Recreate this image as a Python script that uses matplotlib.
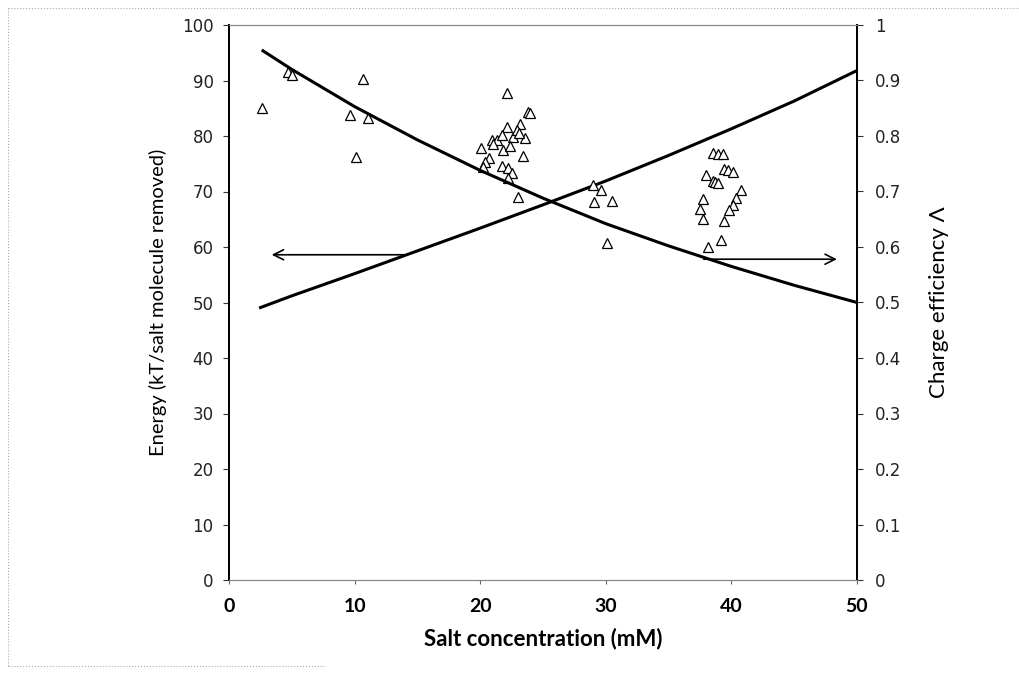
import matplotlib
matplotlib.use("Agg")
import matplotlib.pyplot as plt
from matplotlib.lines import Line2D

plt.rcParams['font.family'] = ['Lato', 'DejaVu Sans']

# Scatter data: salt concentration (mM) vs energy (kT/salt molecule removed)
conc_pts = [2.6, 4.7, 5.0, 9.6, 10.1, 10.7, 11.1,
            22.1, 23.8, 24.0, 22.1, 23.2, 20.9, 21.3, 21.7, 22.6, 23.6,
            21.8, 20.1, 20.7, 20.4, 20.2, 23.4, 21.7, 22.2, 22.5, 22.2, 23.0,
            21.0, 22.9, 22.4, 23.1,
            29.0, 29.6, 29.1, 30.5, 30.1,
            38.5, 38.9, 39.3, 39.4, 39.7, 40.1, 38.0, 38.5, 38.7, 38.9,
            40.8, 40.4, 40.1, 39.8, 37.7, 37.5, 37.7, 39.4, 38.1, 39.2]
energy_pts = [85.0, 91.5, 91.0, 83.7, 76.2, 90.3, 83.2,
              87.8, 84.3, 84.1, 81.6, 82.2, 79.3, 79.3, 80.2, 79.8, 79.6,
              77.5, 77.8, 76.0, 75.3, 74.4, 76.4, 74.6, 74.2, 73.3, 72.4, 69.0,
              78.5, 81.0, 78.2, 80.6,
              71.2, 70.3, 68.1, 68.3, 60.7,
              76.9, 76.8, 76.8, 74.1, 73.9, 73.5, 73.0, 71.9, 71.7, 71.5,
              70.3, 68.8, 67.6, 66.7, 68.6, 66.8, 65.0, 64.7, 60.0, 61.3]

# Energy curve (left axis)
energy_x = [2.4, 5, 10, 15, 20, 25, 30, 35, 40, 45, 50]
energy_y = [49.0, 51.2, 55.2, 59.3, 63.4, 67.6, 71.9, 76.5, 81.3, 86.3, 91.8]

# Charge efficiency curve (right axis)
eff_x = [2.6, 5, 10, 15, 20, 25, 30, 35, 40, 45, 50]
eff_y = [0.955, 0.92, 0.853, 0.793, 0.738, 0.688, 0.642, 0.602, 0.565, 0.531, 0.50]

x_ticks = [0, 10, 20, 30, 40, 50]
left_ticks = [0, 10, 20, 30, 40, 50, 60, 70, 80, 90, 100]
right_ticks = [0, 0.1, 0.2, 0.3, 0.4, 0.5, 0.6, 0.7, 0.8, 0.9, 1]
right_labels = ['0', '0.1', '0.2', '0.3', '0.4', '0.5', '0.6', '0.7', '0.8', '0.9', '1']

fig = plt.figure(figsize=(10.2, 6.74), dpi=100)
ax = fig.add_axes([229/1020, 1-580/674, (857-229)/1020, (580-25)/674])
ax2 = ax.twinx()

ax.plot(energy_x, energy_y, color='black', lw=2.2, solid_capstyle='butt')
ax2.plot(eff_x, eff_y, color='black', lw=2.2, solid_capstyle='butt')
ax.plot(conc_pts, energy_pts, linestyle='none', marker='^', markersize=6.5,
        markerfacecolor='white', markeredgecolor='black', markeredgewidth=0.9)

# arrows
ax.annotate('', xy=(3.4, 58.6), xytext=(14.0, 58.6),
            arrowprops=dict(arrowstyle='->', color='black', lw=1.2,
                            mutation_scale=18, shrinkA=0, shrinkB=0))
ax.annotate('', xy=(48.4, 57.8), xytext=(37.8, 57.8),
            arrowprops=dict(arrowstyle='->', color='black', lw=1.2,
                            mutation_scale=18, shrinkA=0, shrinkB=0))

ax.set_xlim(0, 50)
ax.set_ylim(0, 100)
ax2.set_ylim(0, 1)
ax.set_xticks(x_ticks)
ax.set_xticklabels([str(t) for t in x_ticks], fontweight='bold', fontsize=14)
ax.set_yticks(left_ticks)
ax.set_yticklabels([str(t) for t in left_ticks], fontsize=12, family='DejaVu Sans')
ax2.set_yticks(right_ticks)
ax2.set_yticklabels(right_labels, fontsize=12, family='DejaVu Sans')

for a in (ax, ax2):
    a.spines['top'].set_color('#888888')
    a.spines['top'].set_linewidth(0.8)
    a.spines['bottom'].set_color('#888888')
    a.spines['bottom'].set_linewidth(0.8)
    a.spines['left'].set_color('black')
    a.spines['left'].set_linewidth(1.3)
    a.spines['right'].set_color('black')
    a.spines['right'].set_linewidth(1.3)

ax.tick_params(axis='y', direction='out', length=4, pad=7, colors='#333333', labelcolor='#222222')
ax2.tick_params(axis='y', direction='out', length=4, pad=9, colors='#333333', labelcolor='#222222')
ax.tick_params(axis='x', direction='out', length=3, pad=10, colors='#666666', labelcolor='black')

ax.set_xlabel('Salt concentration (mM)', fontsize=16, fontweight='bold', labelpad=9)
ax.set_ylabel('Energy (kT/salt molecule removed)', fontsize=14.5, labelpad=11)
ax2.set_ylabel('Charge efficiency Λ', fontsize=16, labelpad=20)

# outer chart border (partial, as in scan)
fig.add_artist(Line2D([8/1020, 1.0], [1-8/674, 1-8/674], color='#aaaaaa', lw=0.8, linestyle=':'))
fig.add_artist(Line2D([8/1020, 8/1020], [1-8/674, 1-666/674], color='#aaaaaa', lw=0.8, linestyle=':'))
fig.add_artist(Line2D([8/1020, 325/1020], [1-666/674, 1-666/674], color='#aaaaaa', lw=0.8, linestyle=':'))

fig.savefig('out.png', dpi=100)
